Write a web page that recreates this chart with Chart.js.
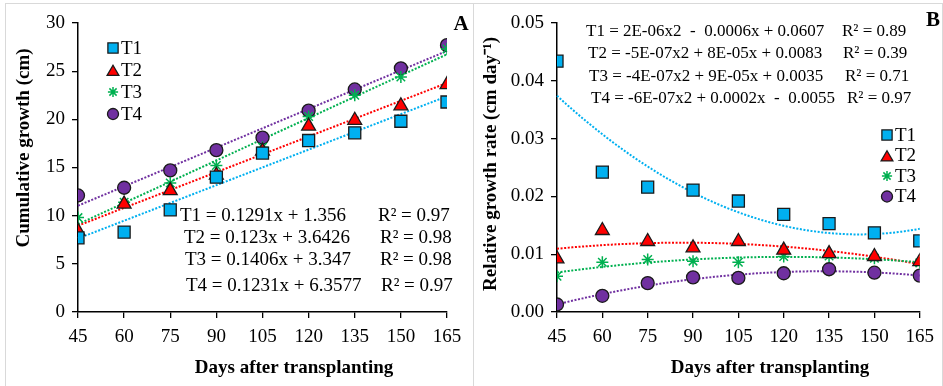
<!DOCTYPE html>
<html lang="en">
<head>
<meta charset="UTF-8">
<title>Growth of treatments</title>
<script src="https://cdn.jsdelivr.net/npm/chart.js"></script>
<style>
  body { margin: 0; background: #fff; width: 943px; height: 386px; overflow: hidden; position: relative; }
  .panel { position: absolute; top: 3px; height: 386px; border: 1px solid #d9d9d9; box-sizing: border-box; }
  #boxA { left: 5px; width: 469px; }
  #boxB { left: 473px; width: 470px; }
  .panel canvas { position: absolute; left: 0; top: 0; }
</style>
</head>
<body>
<div class="panel" id="boxA"><canvas id="chartA" width="467" height="381"></canvas></div>
<div class="panel" id="boxB"><canvas id="chartB" width="468" height="381"></canvas></div>

<script>
// days after transplanting
const days = [45, 60, 75, 90, 105, 120, 135, 150, 165];
const names = ['T1', 'T2', 'T3', 'T4'];

// A - cumulative growth (cm)
const growthT1 = [7.7, 8.3, 10.6, 14.0, 16.5, 17.8, 18.6, 19.8, 21.8];
const growthT2 = [8.4, 11.2, 12.6, 14.2, 16.7, 19.3, 19.9, 21.4, 23.6];
const growthT3 = [9.8, 11.4, 13.4, 15.2, 17.1, 20.3, 22.5, 24.4, 27.3];
const growthT4 = [12.1, 12.9, 14.7, 16.8, 18.1, 20.9, 23.1, 25.3, 27.7];

// B - relative growth rate (cm day-1)
const rateT1 = [0.0434, 0.0242, 0.0216, 0.0211, 0.0192, 0.0169, 0.0153, 0.0137, 0.0123];
const rateT2 = [0.0092, 0.0141, 0.0122, 0.0111, 0.0122, 0.0107, 0.0101, 0.0096, 0.0087];
const rateT3 = [0.0062, 0.0086, 0.0091, 0.0088, 0.0086, 0.0096, 0.0097, 0.0093, 0.0085];
const rateT4 = [0.0013, 0.0028, 0.0050, 0.0060, 0.0059, 0.0067, 0.0074, 0.0068, 0.0063];

// trendline equations as printed
const eqA = ['T1 = 0.1291x + 1.356', 'T2 = 0.123x + 3.6426', 'T3 = 0.1406x + 3.347', 'T4 = 0.1231x + 6.3577'];
const r2A = ['R² = 0.97', 'R² = 0.98', 'R² = 0.98', 'R² = 0.97'];
const eqB = ['T1 = 2E-06x2  -  0.0006x + 0.0607', 'T2 = -5E-07x2 + 8E-05x + 0.0083', 'T3 = -4E-07x2 + 9E-05x + 0.0035', 'T4 = -6E-07x2 + 0.0002x  -  0.0055'];
const r2B = ['R² = 0.89', 'R² = 0.39', 'R² = 0.71', 'R² = 0.97'];

const serif = "'Liberation Serif', 'Times New Roman', serif";
Chart.defaults.font.family = serif;
Chart.defaults.color = '#000';

const styles = [
  { color: '#00b0f0', pointStyle: 'rect', radius: 8.5, border: '#1a1a1a', bw: 1.3 },
  { color: '#ff0000', pointStyle: 'triangle', radius: 8, border: '#1a1a1a', bw: 1.3 },
  { color: '#00b050', pointStyle: 'star', radius: 6, border: '#00b050', bw: 1.5 },
  { color: '#7030a0', pointStyle: 'circle', radius: 6.5, border: '#1a1a1a', bw: 1.3 }
];

function makeSets(series) {
  return series.map((vals, i) => ({
    label: names[i],
    data: vals.map((v, j) => ({ x: days[j], y: v })),
    showLine: false,
    pointStyle: styles[i].pointStyle,
    pointRadius: styles[i].radius,
    pointBackgroundColor: styles[i].color,
    pointBorderColor: styles[i].border,
    pointBorderWidth: styles[i].bw,
    lineColor: styles[i].color
  }));
}

// least squares polynomial fit (what the spreadsheet trendline does)
function polyFit(xs, ys, deg) {
  const n = deg + 1;
  const m = [];
  for (let r = 0; r < n; r++) {
    m.push([]);
    for (let c = 0; c < n; c++) m[r].push(xs.reduce((s, x) => s + Math.pow(x - 105, r + c), 0));
    m[r].push(xs.reduce((s, x, k) => s + Math.pow(x - 105, r) * ys[k], 0));
  }
  for (let i = 0; i < n; i++) {
    for (let k = i + 1; k < n; k++) {
      const f = m[k][i] / m[i][i];
      for (let c = i; c <= n; c++) m[k][c] -= f * m[i][c];
    }
  }
  const a = new Array(n).fill(0);
  for (let i = n - 1; i >= 0; i--) {
    let s = m[i][n];
    for (let c = i + 1; c < n; c++) s -= m[i][c] * a[c];
    a[i] = s / m[i][i];
  }
  return x => a.reduce((s, c, p) => s + c * Math.pow(x - 105, p), 0);
}

const decor = {
  id: 'decor',
  beforeDatasetsDraw(chart, args, o) {
    const { ctx, scales: { x, y } } = chart;
    ctx.save();
    ctx.lineWidth = 2;
    ctx.setLineDash([2, 1.6]);
    chart.data.datasets.forEach(ds => {
      const f = polyFit(ds.data.map(p => p.x), ds.data.map(p => p.y), o.degree);
      ctx.strokeStyle = ds.lineColor;
      ctx.beginPath();
      for (let d = days[0]; d <= days[days.length - 1]; d += 1) {
        const px = x.getPixelForValue(d), py = y.getPixelForValue(f(d));
        if (d === days[0]) ctx.moveTo(px, py); else ctx.lineTo(px, py);
      }
      ctx.stroke();
    });
    ctx.restore();
  },
  afterDraw(chart, args, o) {
    const { ctx, chartArea: ca } = chart;
    ctx.save();
    ctx.fillStyle = '#000';
    ctx.textBaseline = 'middle';

    // legend
    chart.data.datasets.forEach((ds, i) => {
      const lx = ca.left + o.legend.x, ly = ca.top + o.legend.y + i * o.legend.gap;
      ctx.fillStyle = ds.pointBackgroundColor;
      ctx.strokeStyle = ds.pointBorderColor;
      ctx.lineWidth = ds.pointBorderWidth;
      Chart.helpers.drawPoint(ctx, { pointStyle: ds.pointStyle, radius: ds.pointRadius * 0.85, rotation: 0, borderWidth: ds.pointBorderWidth }, lx, ly + (ds.pointStyle === 'triangle' ? 2 : 0));
      ctx.fillStyle = '#000';
      ctx.font = '19px ' + serif;
      ctx.textAlign = 'left';
      ctx.fillText(ds.label, lx + 8, ly + 1);
    });

    // equations
    ctx.font = o.eqSize + 'px ' + serif;
    ctx.textAlign = 'left';
    o.eqs.forEach((t, i) => {
      const r = o.eqRows[i];
      ctx.fillText(t, ca.left + r[0], ca.top + r[1]);
      ctx.fillText(o.r2[i], ca.left + r[2], ca.top + r[1]);
    });

    // panel letter
    ctx.font = 'bold 21px ' + serif;
    ctx.textAlign = 'center';
    ctx.fillText(o.letter[0], o.letter[1], o.letter[2]);

    // axis titles
    ctx.font = 'bold 19px ' + serif;
    ctx.fillText('Days after transplanting', o.xTitle[0], o.xTitle[1]);
    ctx.translate(o.yTitle[1], o.yTitle[2]);
    ctx.rotate(-Math.PI / 2);
    ctx.fillText(o.yTitle[0], 0, 0);
    ctx.restore();
  }
};

function xAxis() {
  return {
    type: 'linear', min: 45, max: 165,
    ticks: { stepSize: 15, color: '#000', font: { size: 19 }, padding: 8, maxRotation: 0 },
    grid: { drawOnChartArea: false, drawTicks: true, tickLength: 6, color: '#000', lineWidth: 1.3 },
    border: { color: '#000', width: 1.5 },
    afterFit: s => { s.height = 73; }
  };
}

function yAxis(max, step, width, fmt) {
  return {
    type: 'linear', min: 0, max: max,
    ticks: { stepSize: step, color: '#000', font: { size: 19 }, padding: 7, callback: fmt },
    grid: { drawOnChartArea: false, drawTicks: true, tickLength: 6, color: '#000', lineWidth: 1.3 },
    border: { color: '#000', width: 1.5 },
    afterFit: s => { s.width = width; }
  };
}

new Chart(document.getElementById('chartA'), {
  type: 'scatter',
  data: { datasets: makeSets([growthT1, growthT2, growthT3, growthT4]) },
  options: {
    responsive: false, animation: false, devicePixelRatio: 1,
    layout: { padding: { top: 19, right: 26, left: 0, bottom: 0 } },
    scales: { x: xAxis(), y: yAxis(30, 5, 72, v => v) },
    plugins: {
      legend: { display: false }, tooltip: { enabled: false },
      decor: {
        degree: 1,
        legend: { x: 35, y: 25, gap: 22 },
        eqs: eqA, r2: r2A, eqSize: 19,
        eqRows: [[102, 193, 300], [106, 215, 302], [107, 237, 302], [108, 263, 303]],
        letter: ['A', 455, 21],
        xTitle: [288, 364],
        yTitle: ['Cumulative growth (cm)', 18, 144]
      }
    }
  },
  plugins: [decor]
});

new Chart(document.getElementById('chartB'), {
  type: 'scatter',
  data: { datasets: makeSets([rateT1, rateT2, rateT3, rateT4]) },
  options: {
    responsive: false, animation: false, devicePixelRatio: 1,
    layout: { padding: { top: 19, right: 20, left: 0, bottom: 0 } },
    scales: { x: xAxis(), y: yAxis(0.05, 0.01, 83, v => v.toFixed(2)) },
    plugins: {
      legend: { display: false }, tooltip: { enabled: false },
      decor: {
        degree: 2,
        legend: { x: 330, y: 112, gap: 20.5 },
        eqs: eqB, r2: r2B, eqSize: 17,
        eqRows: [[29, 9, 285], [31, 31, 286], [32, 54, 288], [34, 76, 290]],
        letter: ['B', 459, 17],
        xTitle: [296, 364],
        yTitle: ['Relative growth rate (cm day⁻¹)', 17, 160]
      }
    }
  },
  plugins: [decor]
});
</script>
</body>
</html>
